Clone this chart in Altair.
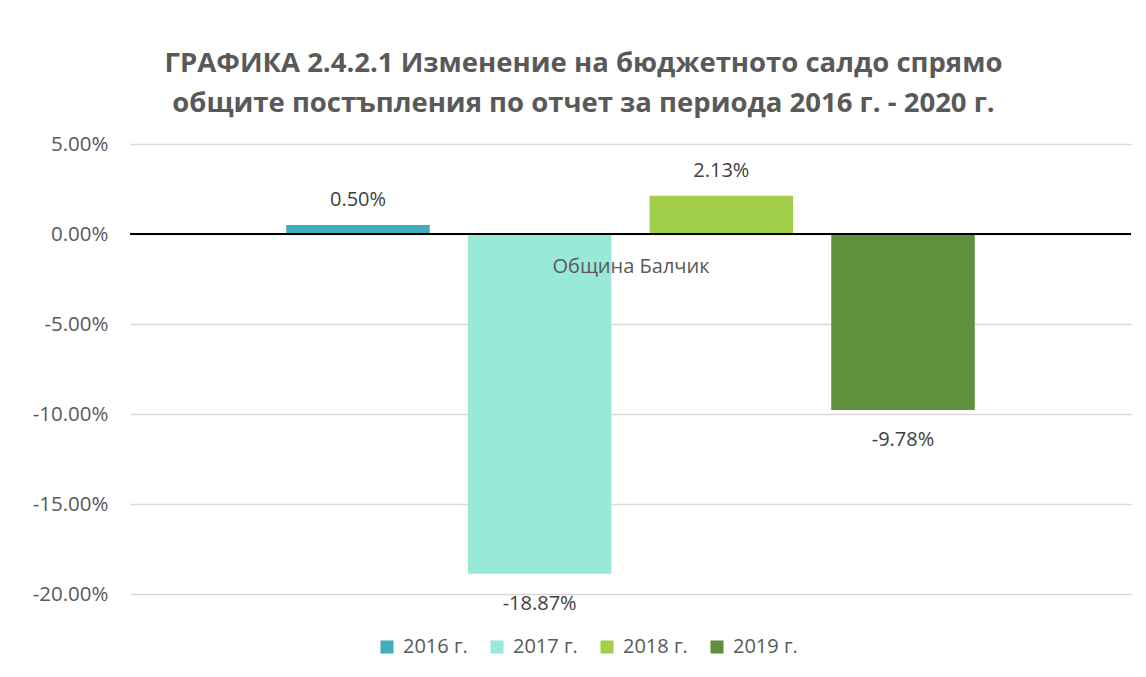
import altair as alt
import pandas as pd

series = ["2016 г.", "2017 г.", "2018 г.", "2019 г."]
values = [0.0050, -0.1887, 0.0213, -0.0978]
colors = ["#40AEBD", "#99E9D9", "#A2CF4B", "#5E903D"]
category = "Община Балчик"
title_lines = ["ГРАФИКА 2.4.2.1 Изменение на бюджетното салдо спрямо",
               "общите постъпления по отчет за периода 2016 г. - 2020 г."]
y_ticks = [0.05, 0.0, -0.05, -0.10, -0.15, -0.20]

df = pd.DataFrame({"series": series, "value": values,
                   "label": [f"{v*100:.2f}%" for v in values]})

FONT = "Open Sans"
W, H = 1001, 450

x = alt.X("series:N", sort=series,
          scale=alt.Scale(paddingInner=0.21, paddingOuter=0.86),
          axis=alt.Axis(title=category, labels=False, ticks=False, domain=False, grid=False,
                        offset=-360, titlePadding=22, titleFontSize=20, zindex=2,
                        titleFontWeight="normal", titleColor="#595959", titleFont=FONT))
y = alt.Y("value:Q", scale=alt.Scale(domain=[-0.20, 0.05], nice=False, zero=False),
          axis=alt.Axis(title=None, format=".2%", values=y_ticks, domain=False, ticks=False,
                        labelExpr="replace(format(datum.value, '.2%'), '\u2212', '-')",
                        labelPadding=22, labelFontSize=20.5, labelColor="#595959", labelFont=FONT,
                        gridColor="#D9D9D9", gridWidth=1.5))

base = alt.Chart(df)

bars = base.mark_bar().encode(
    x=x, y=y,
    color=alt.Color("series:N", sort=series,
                    scale=alt.Scale(domain=series, range=colors),
                    legend=alt.Legend(title=None, orient="none", direction="horizontal",
                                      legendX=247, legendY=493, symbolType="square",
                                      symbolSize=170, symbolStrokeWidth=0, labelFontSize=20,
                                      labelColor="#595959", labelFont=FONT, columnPadding=19,
                                      labelOffset=6)),
)

zero = base.mark_rule(color="black", strokeWidth=2).encode(y=alt.datum(0))

pos_text = base.transform_filter("datum.value >= 0").mark_text(
    dy=-25, fontSize=20, color="#404040", font=FONT, baseline="middle").encode(
    x=alt.X("series:N", sort=series), y="value:Q", text="label:N")
neg_text = base.transform_filter("datum.value < 0").mark_text(
    dy=30, fontSize=20, color="#404040", font=FONT, baseline="middle").encode(
    x=alt.X("series:N", sort=series), y="value:Q", text="label:N")

chart = alt.layer(bars, zero, pos_text, neg_text).properties(
    width=W, height=H,
    title=alt.TitleParams(text=title_lines, fontSize=27.5, fontWeight="bold", color="#595959",
                          font=FONT, anchor="middle", dx=-47, lineHeight=40, offset=17),
    autosize=alt.AutoSizeParams(type="none"),
    padding={"left": 122, "top": 136, "right": 7, "bottom": 75},
).configure(background="white").configure_view(stroke=None)

chart.save("out.html", embed_options={"renderer": "svg", "actions": False})
